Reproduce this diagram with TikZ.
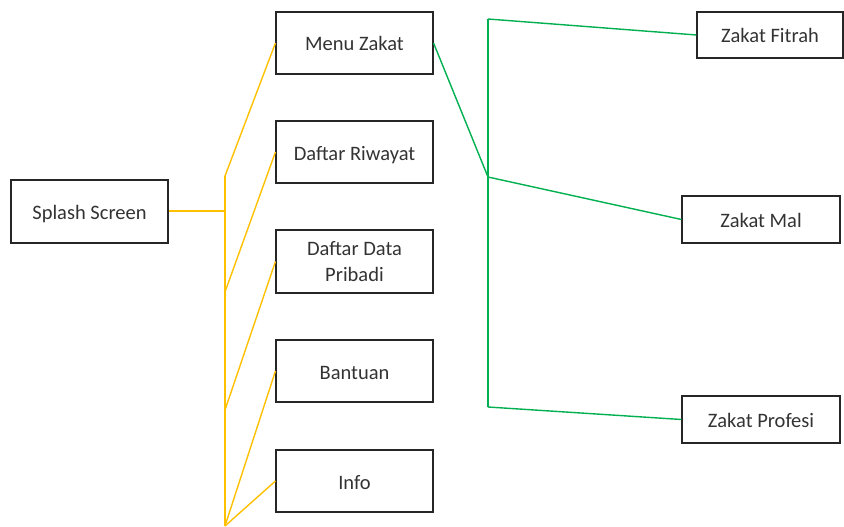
\documentclass[tikz,border=0pt]{standalone}
\usepackage{fontspec}
\setmainfont{Carlito}
\usepackage{xcolor}

\definecolor{kuning}{HTML}{FFC000}
\definecolor{hijau}{HTML}{00B050}

\tikzset{
  kotak/.style={draw=black!85, line width=1.1pt, rectangle, align=center,
    text=black!80, font=\fontsize{20.5}{26}\selectfont, inner sep=0pt,
    text height=20.5pt, text depth=4.5pt},
  garisK/.style={kuning, line width=1.4pt},
  garisH/.style={hijau, line width=1.4pt}
}

\begin{document}
\begin{tikzpicture}[x=1pt, y=-1pt]

\useasboundingbox (0,0) rectangle (844,527);

% Halaman awal
\node[kotak, minimum width=157pt, minimum height=63pt] (splash) at (89.5,211.5) {Splash Screen};

% Menu utama
\node[kotak, minimum width=157pt, minimum height=62pt] (menu) at (354.5,43) {Menu Zakat};
\node[kotak, minimum width=157pt, minimum height=62pt] (riwayat) at (354.5,152) {Daftar Riwayat};
\node[kotak, minimum width=157pt, minimum height=63pt, text height=44pt, text depth=4pt] (pribadi) at (354.5,261.5) {Daftar Data\\Pribadi};
\node[kotak, minimum width=157pt, minimum height=62pt] (bantuan) at (354.5,371) {Bantuan};
\node[kotak, minimum width=157pt, minimum height=62pt] (info) at (354.5,481) {Info};

% Jenis zakat
\node[kotak, minimum width=146pt, minimum height=46pt] (fitrah) at (770,35) {Zakat Fitrah};
\node[kotak, minimum width=158pt, minimum height=47pt] (mal) at (761,219.5) {Zakat Mal};
\node[kotak, minimum width=158pt, minimum height=47pt] (profesi) at (761,419.5) {Zakat Profesi};

% Titik cabang kuning
\coordinate (k0) at (225,211);
\coordinate (k1) at (225,176);
\coordinate (k2) at (225,292);
\coordinate (k3) at (225,410);
\coordinate (k4) at (225,526);

\draw[garisK] (splash.east |- k0) -- (k0);
\draw[garisK] (k1) -- (k4);
\draw[garisK] (k1) -- (menu.west);
\draw[garisK] (k2) -- (riwayat.west);
\draw[garisK] (k3) -- (pribadi.west);
\draw[garisK] (k4) -- (bantuan.west);
\draw[garisK] (k4) -- (info.west);

% Titik cabang hijau
\coordinate (h1) at (488,19);
\coordinate (h2) at (488,177);
\coordinate (h3) at (488,407);

\draw[garisH] (menu.east) -- (h2);
\draw[garisH] (h1) -- (h3);
\draw[garisH] (h1) -- (fitrah.west);
\draw[garisH] (h2) -- (mal.west);
\draw[garisH] (h3) -- (profesi.west);

\end{tikzpicture}
\end{document}
